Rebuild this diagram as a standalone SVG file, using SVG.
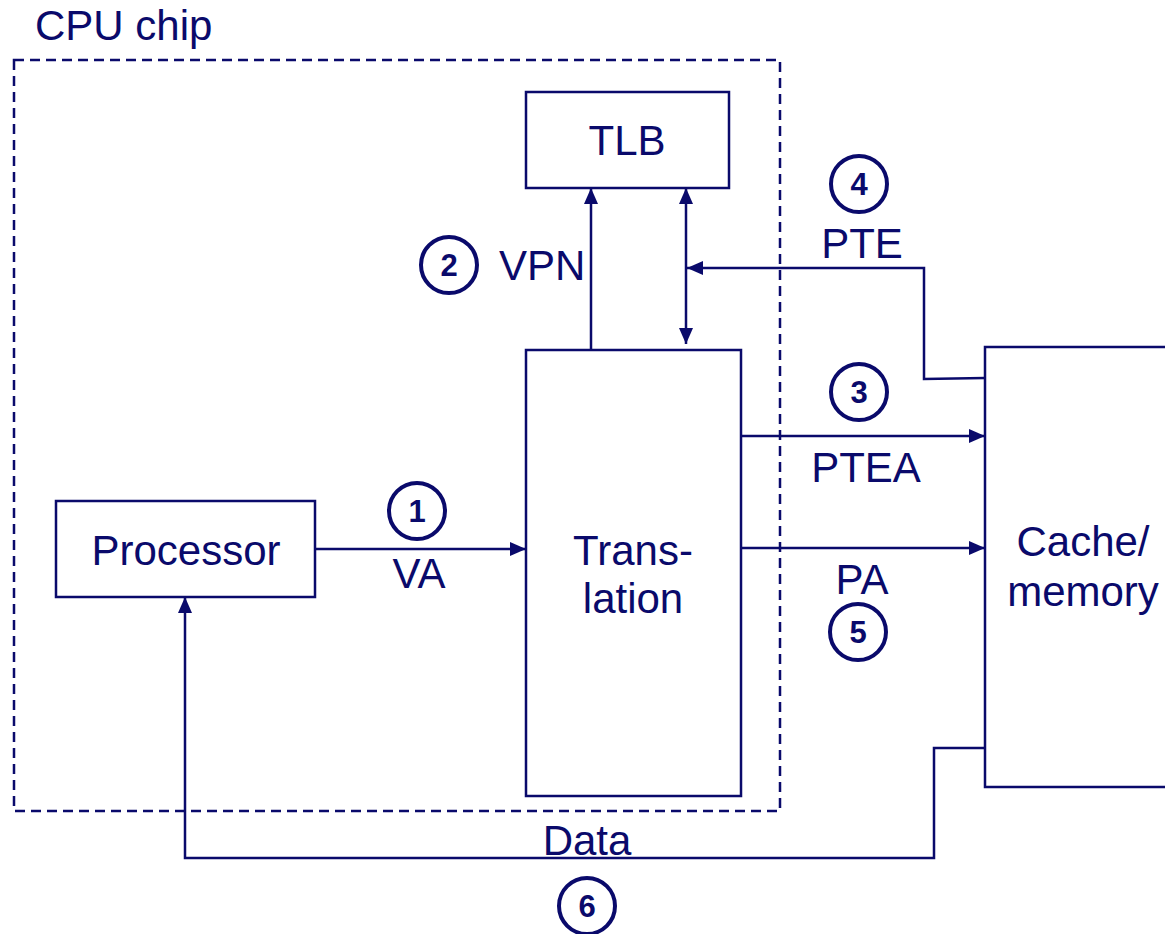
<svg xmlns="http://www.w3.org/2000/svg" width="1165" height="934" viewBox="0 0 1165 934">
<style>
.box{fill:#fff;stroke:#0a0a6b;stroke-width:2.5}
.ln{fill:none;stroke:#0a0a6b;stroke-width:2.5}
.t{font-family:"Liberation Sans",Arial,sans-serif;font-size:42px;fill:#0a0a6b}
.n{font-family:"Liberation Sans",Arial,sans-serif;font-size:31px;font-weight:bold;fill:#0a0a6b;text-anchor:middle}
.c{fill:#fff;stroke:#0a0a6b;stroke-width:4}
.m{text-anchor:middle}
</style>
<defs>
<marker id="ah" viewBox="0 0 16 14" refX="16" refY="7" markerWidth="16" markerHeight="14" markerUnits="userSpaceOnUse" orient="auto-start-reverse">
<path d="M0,0 L16,7 L0,14 Z" fill="#0a0a6b"/>
</marker>
</defs>
<g id="cpu-chip">
<rect x="14" y="60" width="766" height="751" fill="none" stroke="#0a0a6b" stroke-width="2.5" stroke-dasharray="10 6"/>
<text class="t" x="35" y="40">CPU chip</text>
</g>
<g id="connectors">
<line class="ln" x1="591" y1="350" x2="591" y2="188" marker-end="url(#ah)"/>
<line class="ln" x1="686" y1="188" x2="686" y2="344" marker-start="url(#ah)" marker-end="url(#ah)"/>
<polyline class="ln" points="985,378 924,379 924,268 687,268" marker-end="url(#ah)"/>
<line class="ln" x1="742" y1="436" x2="985" y2="436" marker-end="url(#ah)"/>
<line class="ln" x1="742" y1="548" x2="985" y2="548" marker-end="url(#ah)"/>
<line class="ln" x1="315" y1="549" x2="526" y2="549" marker-end="url(#ah)"/>
<polyline class="ln" points="985,748 934,748 934,858 185,858 185,597" marker-end="url(#ah)"/>
</g>
<g id="tlb">
<rect class="box" x="526" y="92" width="203" height="96"/>
<text class="t m" x="627" y="155">TLB</text>
</g>
<g id="translation">
<rect class="box" x="526" y="350" width="215" height="446"/>
<text class="t m" x="633" y="565">Trans-</text>
<text class="t m" x="633" y="613">lation</text>
</g>
<g id="processor">
<rect class="box" x="56" y="501" width="259" height="96"/>
<text class="t m" x="186" y="565">Processor</text>
</g>
<g id="cache-memory">
<path class="box" d="M1170,347 L985,347 L985,787 L1170,787"/>
<text class="t m" x="1083" y="556">Cache/</text>
<text class="t m" x="1083" y="606">memory</text>
</g>
<g id="labels">
<text class="t" x="499" y="280">VPN</text>
<text class="t m" x="862" y="258">PTE</text>
<text class="t m" x="866" y="482">PTEA</text>
<text class="t m" x="862" y="594">PA</text>
<text class="t m" x="419" y="588">VA</text>
<text class="t m" x="587" y="855">Data</text>
</g>
<g id="step1"><circle class="c" cx="417" cy="511" r="28"/><text class="n" x="417" y="522">1</text></g>
<g id="step2"><circle class="c" cx="449" cy="265" r="28"/><text class="n" x="449" y="276">2</text></g>
<g id="step3"><circle class="c" cx="859" cy="392" r="28"/><text class="n" x="859" y="403">3</text></g>
<g id="step4"><circle class="c" cx="859" cy="184" r="28"/><text class="n" x="859" y="195">4</text></g>
<g id="step5"><circle class="c" cx="858" cy="632" r="28"/><text class="n" x="858" y="643">5</text></g>
<g id="step6"><circle class="c" cx="587" cy="906" r="28"/><text class="n" x="587" y="917">6</text></g>
</svg>
